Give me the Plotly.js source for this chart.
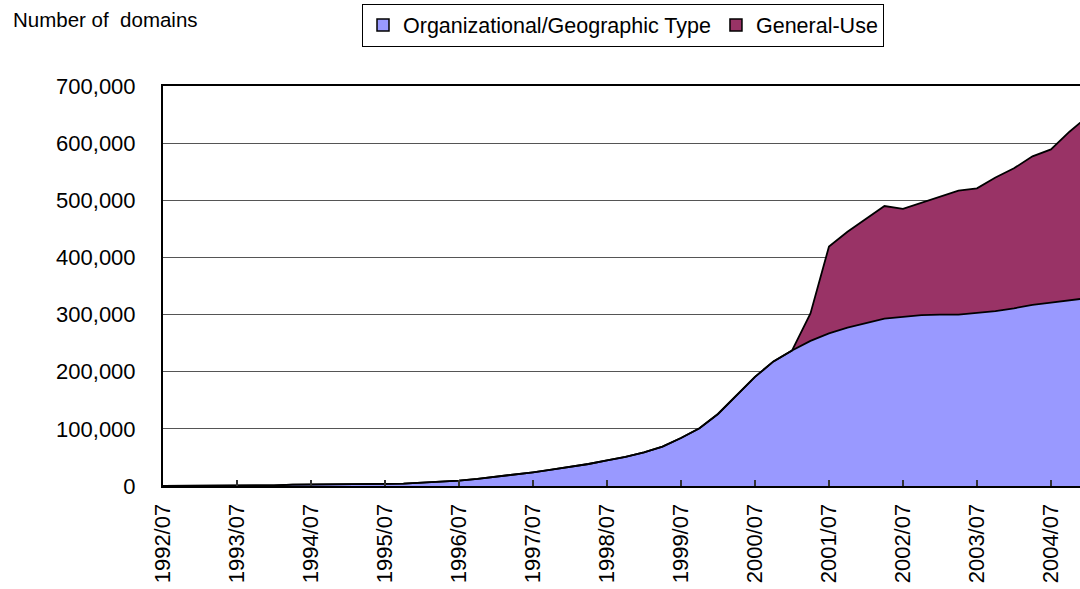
<!DOCTYPE html>
<html>
<head>
<meta charset="utf-8">
<script src="https://cdn.plot.ly/plotly-3.0.1.min.js"></script>
<style>
html,body{margin:0;padding:0;background:#fff;}
#chart{width:1080px;height:589px;}
</style>
</head>
<body>
<div id="chart"></div>
<script>
// Quarterly periods
const periods = [
  "1992/07","1992/10","1993/01","1993/04",
  "1993/07","1993/10","1994/01","1994/04",
  "1994/07","1994/10","1995/01","1995/04",
  "1995/07","1995/10","1996/01","1996/04",
  "1996/07","1996/10","1997/01","1997/04",
  "1997/07","1997/10","1998/01","1998/04",
  "1998/07","1998/10","1999/01","1999/04",
  "1999/07","1999/10","2000/01","2000/04",
  "2000/07","2000/10","2001/01","2001/04",
  "2001/07","2001/10","2002/01","2002/04",
  "2002/07","2002/10","2003/01","2003/04",
  "2003/07","2003/10","2004/01","2004/04",
  "2004/07","2004/10","2005/01"
];

// Organizational / Geographic type JP domains
const orgGeo = [
  200, 300, 400, 500,
  600, 800, 1100, 2300,
  2800, 3000, 3200, 3400,
  3600, 4000, 5500, 7000,
  9500, 12500, 16000, 20000,
  24000, 28500, 33000, 38500,
  45000, 51000, 59000, 69000,
  84000, 101000, 126000, 158000,
  191000, 218000, 237000, 254000,
  267000, 277000, 285000, 293000,
  296000, 299000, 300000, 300000,
  303000, 306000, 311000, 317000,
  321000, 325000, 329000
];

// General-use JP domains
const generalUse = [
  0, 0, 0, 0,
  0, 0, 0, 0,
  0, 0, 0, 0,
  0, 0, 0, 0,
  0, 0, 0, 0,
  0, 0, 0, 0,
  0, 0, 0, 0,
  0, 0, 0, 0,
  0, 0, 0, 48000,
  152000, 168000, 182000, 197000,
  189000, 197000, 206000, 217000,
  218000, 234000, 245000, 260000,
  268000, 295000, 318000
];

const tickLabels = [
  "1992/07","1993/07","1994/07","1995/07","1996/07","1997/07",
  "1998/07","1999/07","2000/07","2001/07","2002/07","2003/07","2004/07"
];

const seriesNames = ["Organizational/Geographic Type", "General-Use"];
const seriesColors = ["#9999FF", "#993366"];

const FONT = "Liberation Sans, Arial, sans-serif";

const traces = [
  {
    type: "scatter", mode: "lines", name: seriesNames[0],
    x: periods, y: orgGeo, stackgroup: "one",
    line: {color: "#000000", width: 1.8, shape: "linear"},
    fillcolor: seriesColors[0], showlegend: false, hoverinfo: "x+y"
  },
  {
    type: "scatter", mode: "lines", name: seriesNames[1],
    x: periods, y: generalUse, stackgroup: "one",
    line: {color: "#000000", width: 1.8, shape: "linear"},
    fillcolor: seriesColors[1], showlegend: false, hoverinfo: "x+y"
  },
  // legend-only entries with square swatches
  {
    type: "scatter", mode: "markers", name: seriesNames[0],
    x: [null], y: [null],
    marker: {symbol: "square", size: 12, color: seriesColors[0], line: {color: "#000", width: 1.5}},
    showlegend: true
  },
  {
    type: "scatter", mode: "markers", name: seriesNames[1],
    x: [null], y: [null],
    marker: {symbol: "square", size: 12, color: seriesColors[1], line: {color: "#000", width: 1.5}},
    showlegend: true
  }
];

const layout = {
  width: 1080, height: 589,
  margin: {l: 163, r: 0, t: 86, b: 103, pad: 0},
  paper_bgcolor: "#ffffff", plot_bgcolor: "#ffffff",
  font: {family: FONT, color: "#000000", size: 20},
  showlegend: true,
  legend: {
    orientation: "h",
    x: (362 - 163) / 917, xanchor: "left",
    y: 1 + (86 - 25) / 400, yanchor: "middle",
    bordercolor: "#000000", borderwidth: 1, bgcolor: "#ffffff",
    font: {family: FONT, size: 21.5, color: "#000"},
    itemwidth: 30, traceorder: "normal", tracegroupgap: 0
  },
  xaxis: {
    type: "category",
    range: [0, 49.57],
    tickmode: "array", tickvals: tickLabels, ticktext: tickLabels,
    tickangle: -90,
    ticks: "inside", ticklen: 6, tickwidth: 1.5, tickcolor: "#333",
    showline: true, linecolor: "#000", linewidth: 2, mirror: true,
    showgrid: false, zeroline: false,
    tickfont: {family: FONT, size: 22, color: "#000"},
    ticklabelstandoff: 7,
    automargin: false, fixedrange: true
  },
  yaxis: {
    range: [0, 700000],
    tickmode: "linear", tick0: 0, dtick: 100000,
    tickformat: ",d",
    showgrid: true, gridcolor: "#555", gridwidth: 1,
    showline: true, linecolor: "#000", linewidth: 2,
    zeroline: false, ticks: "",
    tickfont: {family: FONT, size: 22, color: "#000"},
    ticklabelstandoff: 21,
    automargin: false, fixedrange: true
  },
  annotations: [
    {
      text: "Number of  domains",
      xref: "paper", yref: "paper",
      x: (11 - 163) / 917, xanchor: "left",
      y: 1 + (86 - 20) / 400, yanchor: "middle",
      showarrow: false,
      font: {family: FONT, size: 20.5, color: "#000"}
    }
  ]
};

Plotly.newPlot("chart", traces, layout, {displayModeBar: false, staticPlot: true});
</script>
</body>
</html>
